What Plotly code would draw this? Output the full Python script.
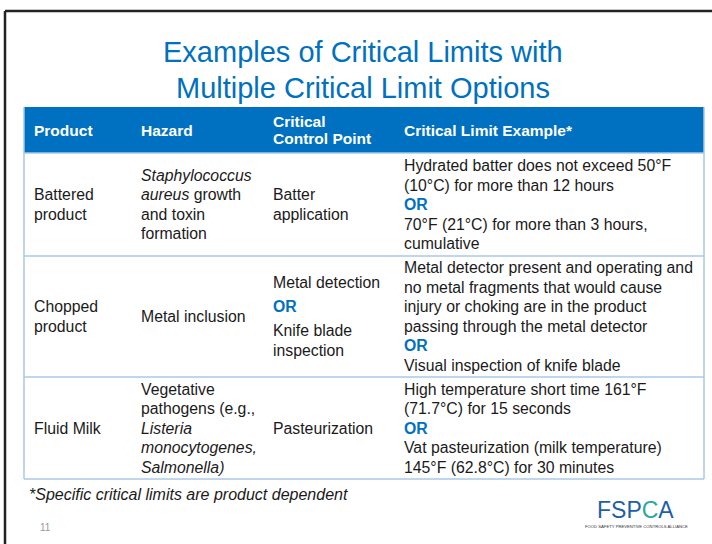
import plotly.graph_objects as go

title_lines = ["Examples of Critical Limits with", "Multiple Critical Limit Options"]
headers = [["Product"], ["Hazard"], ["Critical", "Control Point"], ["Critical Limit Example*"]]
OR = "<b><span style='color:#0070C0'>OR</span></b>"
products = [["Battered", "product"], ["Chopped", "product"], ["Fluid Milk"]]
hazards = [
    ["<i>Staphylococcus</i>", "<i>aureus</i> growth", "and toxin", "formation"],
    ["Metal inclusion"],
    ["Vegetative", "pathogens (e.g.,", "<i>Listeria</i>", "<i>monocytogenes,</i>", "<i>Salmonella)</i>"],
]
ccps = [
    ["Batter", "application"],
    ["Metal detection", OR, "Knife blade", "inspection"],
    ["Pasteurization"],
]
limits = [
    ["Hydrated batter does not exceed 50°F", "(10°C) for more than 12 hours", OR,
     "70°F (21°C) for more than 3 hours,", "cumulative"],
    ["Metal detector present and operating and", "no metal fragments that would cause",
     "injury or choking are in the product", "passing through the metal detector", OR,
     "Visual inspection of knife blade"],
    ["High temperature short time 161°F", "(71.7°C) for 15 seconds", OR,
     "Vat pasteurization (milk temperature)", "145°F (62.8°C) for 30 minutes"],
]
footnote = "*Specific critical limits are product dependent"
page_number = "11"

# layout geometry (pixels)
W, H = 712, 544
col_x = [24, 131, 263, 394, 704]
row_y = [107, 153, 256, 377, 479]
pad = 8
BLUE = "#0070C0"
LINE = "#A9C8E8"
TXT = "#1a1a1a"
FONT = "Liberation Sans, Arial, sans-serif"
BODY_SIZE = 15.8
BODY_LH = 19.5

shapes = []
ann = []


def text_block(lines, x, yc, lh, size, color, bold=False, gaps=None):
    n = len(lines)
    offs = []
    acc = 0.0
    for i in range(n):
        offs.append(acc)
        acc += lh + (gaps[i] if gaps and i < len(gaps) else 0)
    total = offs[-1]
    for line, o in zip(lines, offs):
        t = "<b>" + line + "</b>" if bold else line
        ann.append(dict(x=x, y=yc - total / 2 + o, text=t, showarrow=False,
                        xanchor="left", yanchor="middle", align="left",
                        font=dict(family=FONT, size=size, color=color)))


# slide border
shapes.append(dict(type="line", x0=5, y0=11, x1=W + 5, y1=11, line=dict(color="#222", width=2.5)))
shapes.append(dict(type="line", x0=5, y0=11, x1=5, y1=H + 5, line=dict(color="#222", width=2.5)))

# title
for i, t in enumerate(title_lines):
    ann.append(dict(x=363, y=52 + 36 * i, text=t, showarrow=False,
                    xanchor="center", yanchor="middle",
                    font=dict(family=FONT, size=29, color=BLUE)))

# header band
shapes.append(dict(type="rect", x0=col_x[0], x1=col_x[-1], y0=row_y[0], y1=row_y[1],
                   fillcolor=BLUE, line=dict(width=0), layer="below"))
for i, h in enumerate(headers):
    text_block(h, col_x[i] + pad, (row_y[0] + row_y[1]) / 2, 17, 15.5, "white", bold=True)

# table lines
shapes.append(dict(type="line", x0=col_x[0], x1=col_x[0], y0=row_y[0], y1=row_y[-1],
                   line=dict(color=LINE, width=1.5)))
shapes.append(dict(type="line", x0=col_x[-1], x1=col_x[-1], y0=row_y[0], y1=row_y[-1],
                   line=dict(color=LINE, width=1.5)))
for y in row_y[1:]:
    shapes.append(dict(type="line", x0=col_x[0], x1=col_x[-1], y0=y, y1=y,
                       line=dict(color=LINE, width=1.5)))

# body cells
for r in range(3):
    yc = (row_y[r + 1] + row_y[r + 2]) / 2
    for c, col in enumerate([products, hazards, ccps, limits]):
        gaps = [4.5, 4.5, 0] if (c == 2 and OR in col[r]) else None
        text_block(col[r], col_x[c] + pad, yc, BODY_LH, BODY_SIZE, TXT, gaps=gaps)

# footnote and page number
ann.append(dict(x=27, y=494, text="<i>" + footnote + "</i>", showarrow=False,
                xanchor="left", yanchor="middle",
                font=dict(family=FONT, size=16, color=TXT)))
ann.append(dict(x=38, y=527, text=page_number, showarrow=False, xanchor="left",
                yanchor="middle", font=dict(family=FONT, size=10, color="#999")))

# logo
ann.append(dict(x=635, y=510, text="<span style='color:#1F5FA8'>FSP</span>"
                "<span style='color:#2BA7A0'>C</span><span style='color:#1F5FA8'>A</span>",
                showarrow=False, xanchor="center", yanchor="middle",
                font=dict(family=FONT, size=23, color="#1F5FA8")))
ann.append(dict(x=636, y=526, text="FOOD SAFETY PREVENTIVE CONTROLS ALLIANCE", showarrow=False,
                xanchor="center", yanchor="middle",
                font=dict(family=FONT, size=4.2, color="#333")))

fig = go.Figure()
fig.update_layout(
    width=W, height=H, margin=dict(l=0, r=0, t=0, b=0),
    paper_bgcolor="white", plot_bgcolor="white",
    xaxis=dict(range=[0, W], visible=False, fixedrange=True),
    yaxis=dict(range=[H, 0], visible=False, fixedrange=True),
    shapes=shapes, annotations=ann, showlegend=False,
)
fig.write_html("out.html", config={"displayModeBar": False},
               post_script="document.body.style.margin='0';document.body.style.overflow='hidden';")
